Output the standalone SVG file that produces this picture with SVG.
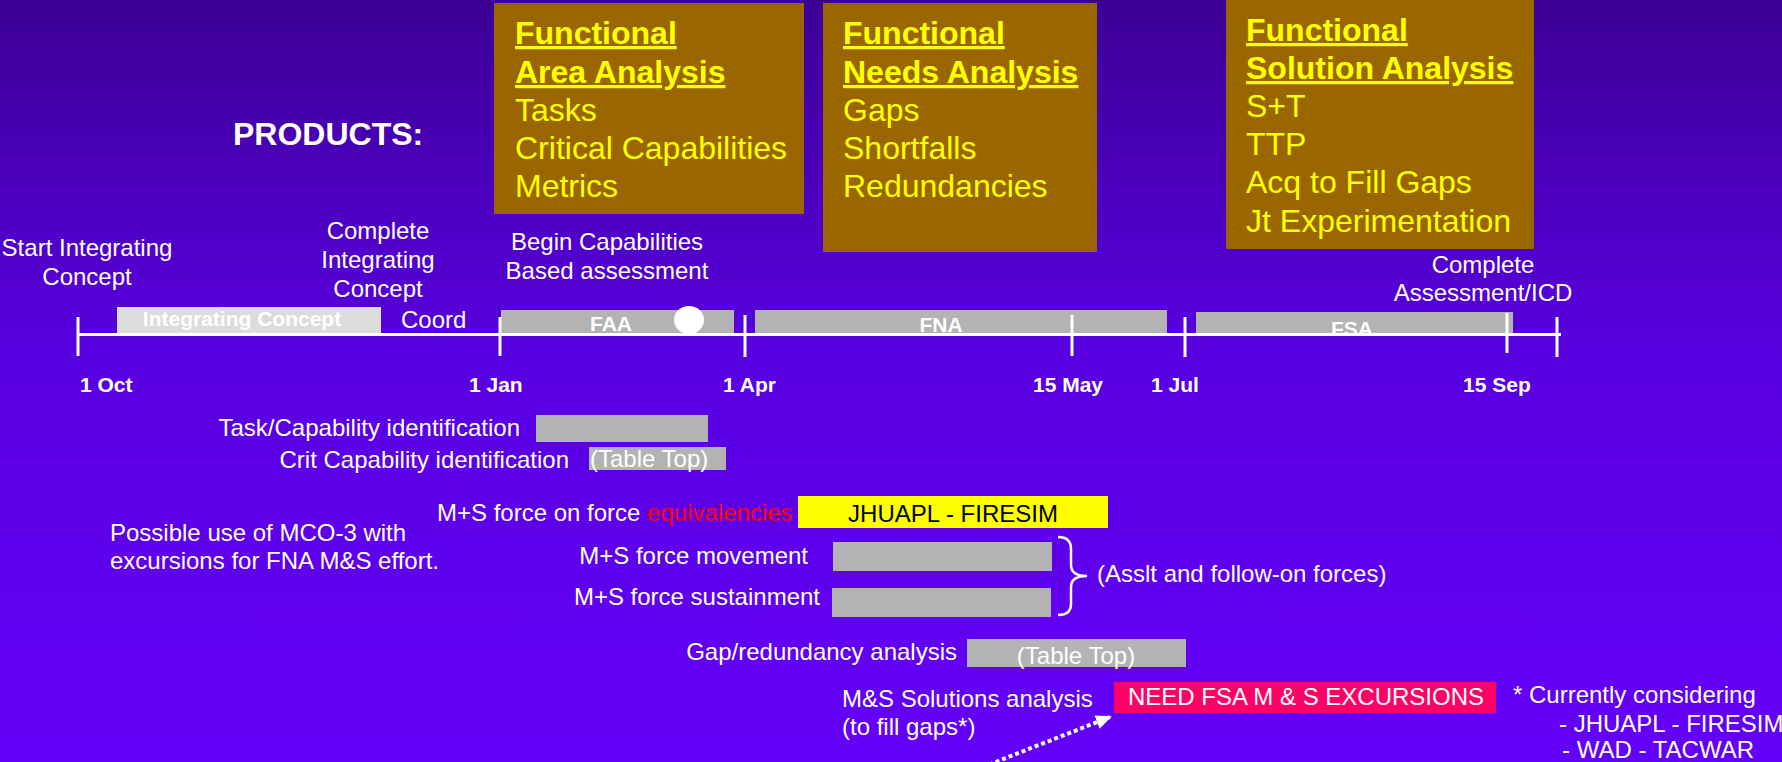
<svg xmlns="http://www.w3.org/2000/svg" width="1782" height="762" viewBox="0 0 1782 762">
<defs>
<linearGradient id="bg" x1="0" y1="0" x2="0" y2="1">
<stop offset="0" stop-color="#3C0094"/>
<stop offset="0.45" stop-color="#5800DE"/>
<stop offset="1" stop-color="#6400F8"/>
</linearGradient>
<marker id="ah" markerUnits="userSpaceOnUse" markerWidth="16" markerHeight="16" viewBox="0 0 16 16" refX="14" refY="8" orient="auto">
<path d="M0,1 L16,8 L0,15 Z" fill="#fff"/>
</marker>
<style>
.t{font-family:"Liberation Sans",Arial,sans-serif;font-size:24px;fill:#fff}
.b{font-weight:bold}
.p{font-size:32px;font-weight:bold}
.d{font-size:21px;font-weight:bold}
.h{font-size:32px;fill:#ff0}
.hu{font-weight:bold;text-decoration:underline}
.box{fill:#996600}
.bar{fill:#b3b3b3}
.tick{stroke:#fff;stroke-width:3}
</style>
</defs>
<rect x="0" y="0" width="1782" height="762" fill="url(#bg)"/>

<g id="products-label"><text class="t p" x="233" y="145">PRODUCTS:</text></g>

<g id="faa-box">
<rect class="box" x="494" y="3" width="310" height="211"/>
<text class="t h hu" x="515" y="44">Functional</text>
<text class="t h hu" x="515" y="83">Area Analysis</text>
<text class="t h" x="515" y="121">Tasks</text>
<text class="t h" x="515" y="159">Critical Capabilities</text>
<text class="t h" x="515" y="197">Metrics</text>
</g>

<g id="fna-box">
<rect class="box" x="823" y="3" width="274" height="249"/>
<text class="t h hu" x="843" y="44">Functional</text>
<text class="t h hu" x="843" y="83">Needs Analysis</text>
<text class="t h" x="843" y="121">Gaps</text>
<text class="t h" x="843" y="159">Shortfalls</text>
<text class="t h" x="843" y="197">Redundancies</text>
</g>

<g id="fsa-box">
<rect class="box" x="1226" y="0" width="308" height="249"/>
<text class="t h hu" x="1246" y="41">Functional</text>
<text class="t h hu" x="1246" y="79">Solution Analysis</text>
<text class="t h" x="1246" y="117">S+T</text>
<text class="t h" x="1246" y="155">TTP</text>
<text class="t h" x="1246" y="193">Acq to Fill Gaps</text>
<text class="t h" x="1246" y="232">Jt Experimentation</text>
</g>

<g id="milestone-labels">
<text class="t" x="87" y="256" text-anchor="middle">Start Integrating</text>
<text class="t" x="87" y="285" text-anchor="middle">Concept</text>
<text class="t" x="378" y="239" text-anchor="middle">Complete</text>
<text class="t" x="378" y="268" text-anchor="middle">Integrating</text>
<text class="t" x="378" y="297" text-anchor="middle">Concept</text>
<text class="t" x="607" y="250" text-anchor="middle">Begin Capabilities</text>
<text class="t" x="607" y="279" text-anchor="middle">Based assessment</text>
<text class="t" x="1483" y="273" text-anchor="middle">Complete</text>
<text class="t" x="1483" y="301" text-anchor="middle">Assessment/ICD</text>
</g>

<g id="timeline">
<rect x="117" y="307" width="264" height="27" fill="#dcdcdc"/>
<text class="t d" x="242" y="326" text-anchor="middle">Integrating Concept</text>
<text class="t" x="401" y="328">Coord</text>
<rect class="bar" x="501" y="310" width="233" height="24"/>
<text class="t d" x="611" y="331" text-anchor="middle">FAA</text>
<ellipse cx="689" cy="320" rx="15" ry="14" fill="#fff"/>
<rect class="bar" x="755" y="310" width="412" height="24"/>
<text class="t d" x="941" y="332" text-anchor="middle">FNA</text>
<rect class="bar" x="1196" y="312" width="317" height="22"/>
<text class="t d" x="1352" y="336" text-anchor="middle">FSA</text>
<line class="tick" x1="78" y1="334.5" x2="1561" y2="334.5"/>
<line class="tick" x1="78" y1="317" x2="78" y2="356"/>
<line class="tick" x1="500" y1="317" x2="500" y2="356"/>
<line class="tick" x1="745" y1="315" x2="745" y2="357"/>
<line class="tick" x1="1072" y1="315" x2="1072" y2="356"/>
<line class="tick" x1="1185" y1="317" x2="1185" y2="357"/>
<line class="tick" x1="1507" y1="313" x2="1507" y2="353"/>
<line class="tick" x1="1557" y1="317" x2="1557" y2="357"/>
<text class="t d" x="80" y="392">1 Oct</text>
<text class="t d" x="469" y="392">1 Jan</text>
<text class="t d" x="723" y="392">1 Apr</text>
<text class="t d" x="1033" y="392">15 May</text>
<text class="t d" x="1151" y="392">1 Jul</text>
<text class="t d" x="1463" y="392">15 Sep</text>
</g>

<g id="task-capability">
<text class="t" x="520" y="436" text-anchor="end">Task/Capability identification</text>
<rect class="bar" x="536" y="415" width="172" height="27"/>
</g>

<g id="crit-capability">
<text class="t" x="569" y="468" text-anchor="end">Crit Capability identification</text>
<rect class="bar" x="589" y="447" width="137" height="23"/>
<text class="t" x="590" y="467">(Table Top)</text>
</g>

<g id="force-on-force">
<text class="t" x="437" y="521">M+S force on force <tspan fill="#ff0000">equivalencies</tspan></text>
<rect x="798" y="496" width="310" height="32" fill="#ffff00"/>
<text class="t" x="953" y="522" text-anchor="middle" style="fill:#000">JHUAPL - FIRESIM</text>
</g>

<g id="mco-note">
<text class="t" x="110" y="541">Possible use of MCO-3 with</text>
<text class="t" x="110" y="569">excursions for FNA M&amp;S effort.</text>
</g>

<g id="force-movement">
<text class="t" x="808" y="564" text-anchor="end">M+S force movement</text>
<rect class="bar" x="833" y="542" width="219" height="29"/>
</g>

<g id="force-sustainment">
<text class="t" x="820" y="605" text-anchor="end">M+S force sustainment</text>
<rect class="bar" x="832" y="588" width="219" height="29"/>
</g>

<g id="assault-brace">
<path d="M1058,537 Q1071,537 1071,549 L1071,565 Q1071,576 1087,576 Q1071,576 1071,587 L1071,604 Q1071,615 1058,615" fill="none" stroke="#fff" stroke-width="2.5"/>
<text class="t" x="1097" y="582">(Asslt and follow-on forces)</text>
</g>

<g id="gap-redundancy">
<text class="t" x="957" y="660" text-anchor="end">Gap/redundancy analysis</text>
<rect class="bar" x="967" y="639" width="219" height="28"/>
<text class="t" x="1076" y="664" text-anchor="middle">(Table Top)</text>
</g>

<g id="ms-solutions">
<text class="t" x="842" y="707">M&amp;S Solutions analysis</text>
<text class="t" x="842" y="735">(to fill gaps*)</text>
</g>

<g id="need-fsa">
<rect x="1114" y="682" width="382" height="31" fill="#ff0066"/>
<text class="t" x="1306" y="705" text-anchor="middle">NEED FSA M &amp; S EXCURSIONS</text>
</g>

<g id="considering-note">
<text class="t" x="1513" y="703">* Currently considering</text>
<text class="t" x="1559" y="732">- JHUAPL - FIRESIM</text>
<text class="t" x="1562" y="758">- WAD - TACWAR</text>
</g>

<g id="connectors">
<line x1="950" y1="780" x2="1110" y2="717" stroke="#fff" stroke-width="4" stroke-dasharray="4 3" marker-end="url(#ah)"/>
</g>
</svg>
